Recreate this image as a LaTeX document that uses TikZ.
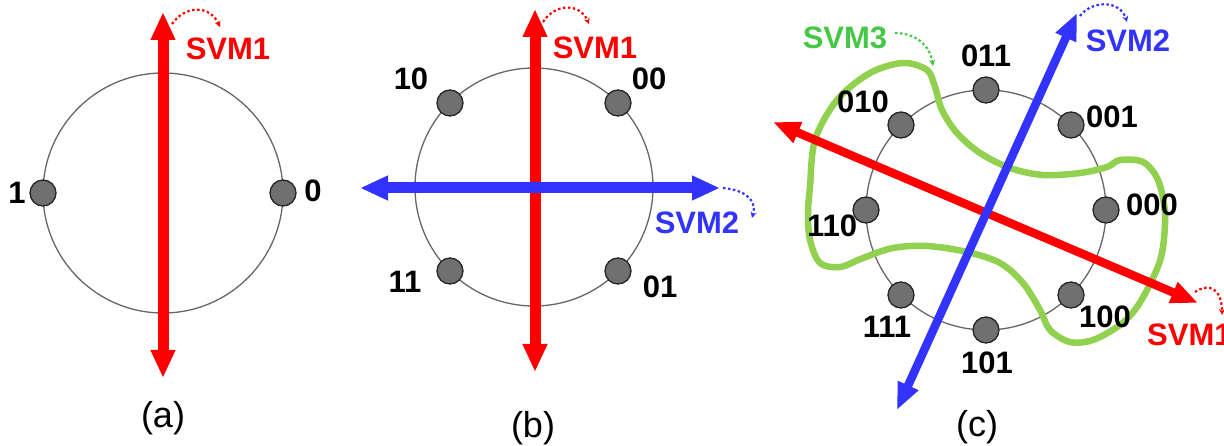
\documentclass[tikz,border=0pt]{standalone}
\usepackage{fontspec}
\setmainfont{Liberation Sans}
\usetikzlibrary{arrows.meta}
\definecolor{svmred}{RGB}{255,0,0}
\definecolor{svmblue}{RGB}{51,51,255}
\definecolor{svmgreen}{RGB}{70,200,70}
\definecolor{blobgreen}{RGB}{146,208,80}
\definecolor{dotgray}{RGB}{112,112,112}
\begin{document}
\begin{tikzpicture}[x=1pt,y=-1pt,
  ring/.style={draw=black!60, line width=1.3pt},
  pt/.style={circle, draw=black!85, line width=1.3pt, fill=dotgray, minimum size=26pt, inner sep=0pt},
  lab/.style={font=\fontsize{31}{31}\selectfont\bfseries, inner sep=0pt},
  captext/.style={font=\fontsize{36}{36}\selectfont, inner sep=0pt},
  bigarrow/.style={line width=11pt, {Triangle[width=23pt,length=28pt]}-{Triangle[width=23pt,length=28pt]}},
  midarrow/.style={line width=8.5pt, {Triangle[width=21pt,length=27pt]}-{Triangle[width=21pt,length=27pt]}},
  hint/.style={line width=2.2pt, dash pattern=on 2.5pt off 2.5pt, -{Stealth[length=6pt,width=6pt]}},
]
\useasboundingbox (0,0) rectangle (1224,446);

% ---------- (a) ----------
\coordinate (ac) at (163,193);
\draw[ring] (ac) circle[radius=120pt];
\node[pt] (a1) at (43,193) {};
\node[pt] (a0) at (283,193) {};
\node[lab] (l1) at (17,193) {1};
\node[lab] (l0) at (313,191) {0};
\coordinate (at) at (163,12);
\coordinate (ab) at (163,378);
\draw[bigarrow, svmred] (ab) -- (at);
\coordinate (ah1) at (172,24);
\coordinate (ah2) at (220,27);
\draw[hint, svmred] (ah1) .. controls (185,5) and (210,5) .. (ah2);
\node[lab, text=svmred] (asvm1) at (228,49) {SVM1};
\node[captext] (capa) at (163,418) {(a)};

% ---------- (b) ----------
\coordinate (bc) at (534,187);
\draw[ring] (bc) circle[radius=119pt];
\node[pt] (b10) at (450,103) {};
\node[pt] (b00) at (618,103) {};
\node[pt] (b11) at (450,271) {};
\node[pt] (b01) at (618,271) {};
\node[lab] (lb10) at (411,79) {10};
\node[lab] (lb00) at (649,79) {00};
\node[lab] (lb11) at (405,282) {11};
\node[lab] (lb01) at (660,287) {01};
\coordinate (bt) at (535,9);
\coordinate (bb) at (535,372);
\coordinate (bl) at (360,188);
\coordinate (br) at (720,188);
\draw[bigarrow, svmred] (bb) -- (bt);
\draw[bigarrow, svmblue] (bl) -- (br);
\coordinate (bh1) at (543,22);
\coordinate (bh2) at (589,24);
\draw[hint, svmred] (bh1) .. controls (555,3) and (580,3) .. (bh2);
\coordinate (bh3) at (723,188);
\coordinate (bh4) at (752,218);
\draw[hint, svmblue] (bh3) .. controls (745,190) and (757,200) .. (bh4);
\node[lab, text=svmred] (bsvm1) at (595,48) {SVM1};
\node[lab, text=svmblue] (bsvm2) at (697,223) {SVM2};
\node[captext] (capb) at (533,428) {(b)};

% ---------- (c) ----------
\coordinate (cc) at (986,210);
\draw[ring] (cc) circle[radius=120pt];
\draw[blobgreen, line width=6.5pt] plot[smooth cycle, tension=0.55] coordinates {
 (810,187) (815,140) (837,100) (870,73) (903,63) (927,70) (935,87) (942,110)
 (957,133) (980,153) (1010,168) (1043,175) (1080,173) (1107,167) (1120,160)
 (1143,162) (1158,180) (1165,213) (1162,253) (1152,280) (1137,307) (1120,325)
 (1093,340) (1070,342) (1050,330) (1040,310) (1023,283) (1000,263) (967,252)
 (927,246) (893,248) (863,258) (840,267) (820,263) (810,240) (808,213)};
\node[pt] (c011) at (986,90) {};
\node[pt] (c001) at (1071,125) {};
\node[pt] (c000) at (1106,210) {};
\node[pt] (c100) at (1071,295) {};
\node[pt] (c101) at (986,330) {};
\node[pt] (c111) at (901,295) {};
\node[pt] (c110) at (866,210) {};
\node[pt] (c010) at (901,125) {};
\node[lab] (lc011) at (986,56) {011};
\node[lab] (lc010) at (863,102) {010};
\node[lab] (lc001) at (1112,117) {001};
\node[lab] (lc000) at (1152,205) {000};
\node[lab] (lc110) at (832,226) {110};
\node[lab] (lc111) at (887,327) {111};
\node[lab] (lc101) at (987,363) {101};
\node[lab] (lc100) at (1105,317) {100};
\coordinate (crl) at (773,122);
\coordinate (crr) at (1198,303);
\coordinate (cbb) at (897,410);
\coordinate (cbt) at (1077,13);
\draw[midarrow, svmred] (crl) -- (crr);
\draw[midarrow, svmblue] (cbb) -- (cbt);
\coordinate (ch1) at (1080,16);
\coordinate (ch2) at (1127,22);
\draw[hint, svmblue] (ch1) .. controls (1092,0) and (1120,0) .. (ch2);
\coordinate (ch3) at (895,33);
\coordinate (ch4) at (933,66);
\draw[hint, svmgreen] (ch3) .. controls (915,33) and (930,45) .. (ch4);
\coordinate (ch5) at (1195,292);
\coordinate (ch6) at (1222,315);
\draw[hint, svmred] (ch5) .. controls (1210,282) and (1222,290) .. (ch6);
\node[lab, text=svmblue] (csvm2) at (1128,41) {SVM2};
\node[lab, text=svmgreen] (csvm3) at (845,38) {SVM3};
\node[lab, text=svmred, anchor=west] (csvm1) at (1147,335) {SVM1};
\node[captext] (capc) at (977,427) {(c)};
\end{tikzpicture}
\end{document}
